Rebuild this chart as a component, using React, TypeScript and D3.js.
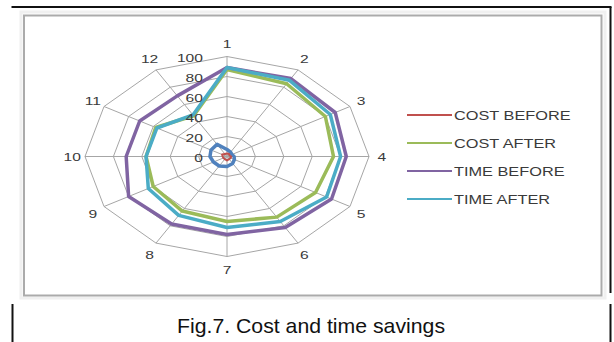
import React from "react";
import * as d3 from "d3";

const categories = ["1", "2", "3", "4", "5", "6", "7", "8", "9", "10", "11", "12"];
const ticks = [0, 20, 40, 60, 80, 100];
const series0 = [7, 5, 4, 5, 6, 8, 10, 11, 11, 12, 13, 14];
const costBefore = [3, 3, 2, 3, 3, 3, 4, 3, 3, 3, 4, 3];
const costAfter = [87, 84, 80, 75, 72, 70, 65, 63, 60, 57, 58, 47];
const timeBefore = [89, 90, 88, 84, 85, 82, 78, 78, 80, 71, 71, 70];
const timeAfter = [89, 88, 84, 80, 81, 75, 71, 68, 64, 57, 57, 48];

const seriesNames = ["COST BEFORE", "COST AFTER", "TIME BEFORE", "TIME AFTER"];
const seriesColors = ["#C0504D", "#9BBB59", "#8064A2", "#4BACC6"];

const W = 614;
const H = 342;
const cx = 227;
const cy = 156.5;
const RX = 142;
const RY = 100;
const SX = 1.36;
const textColor = "#3a3a3a";
const font = "'Liberation Sans', Arial, sans-serif";

const r = d3.scaleLinear().domain([0, 100]).range([0, 1]);
const ang = d3
  .scalePoint<string>()
  .domain(categories)
  .range([0, (2 * Math.PI * (categories.length - 1)) / categories.length]);

function pt(cat: string, v: number): [number, number] {
  const a = ang(cat) as number;
  return [cx + r(v) * RX * Math.sin(a), cy - r(v) * RY * Math.cos(a)];
}

const closed = d3.line<[number, number]>().curve(d3.curveLinearClosed);

function ST(props: { x: number; y: number; anchor?: string; size?: number; children: React.ReactNode }) {
  const { x, y, anchor = "start", size = 11.5, children } = props;
  return (
    <text
      transform={`translate(${x},${y}) scale(${SX},1)`}
      textAnchor={anchor}
      dominantBaseline="central"
      fontSize={size}
      fontFamily={font}
      fill={textColor}
    >
      {children}
    </text>
  );
}

export default function App() {
  const data = [series0, costBefore, costAfter, timeBefore, timeAfter];
  const colors = ["#4F81BD", ...seriesColors];
  return (
    <svg
      width={W}
      height={H}
      viewBox={`0 0 ${W} ${H}`}
      style={{ position: "absolute", left: 0, top: 0, display: "block", background: "#fff" }}
    >
      {/* page frame lines */}
      <line x1={11.5} y1={7} x2={611.5} y2={7} stroke="#111" strokeWidth={2} />
      <line x1={610.5} y1={7} x2={610.5} y2={293} stroke="#111" strokeWidth={2} />
      <line x1={610.5} y1={304} x2={610.5} y2={342} stroke="#111" strokeWidth={2} />
      <line x1={12.5} y1={304} x2={12.5} y2={342} stroke="#111" strokeWidth={2} />
      {/* chart border */}
      <rect x={21} y={12} width={584} height={286} fill="none" stroke="#f0f0f0" strokeWidth={3} />
      <rect x={24} y={15.5} width={577.5} height={280} fill="#fff" stroke="#ababab" strokeWidth={2} />

      {/* grid rings */}
      {ticks.slice(1).map((t) => (
        <path
          key={"ring" + t}
          d={closed(categories.map((c) => pt(c, t))) || ""}
          fill="none"
          stroke="#a6a6a6"
          strokeWidth={1}
        />
      ))}
      {/* spokes */}
      {categories.map((c) => {
        const [x, y] = pt(c, 100);
        return <line key={"sp" + c} x1={cx} y1={cy} x2={x} y2={y} stroke="#a6a6a6" strokeWidth={1} />;
      })}

      {/* series */}
      {data.map((s, i) => (
        <path
          key={"s" + i}
          d={closed(categories.map((c, j) => pt(c, s[j]))) || ""}
          fill="none"
          stroke={colors[i]}
          strokeWidth={i === 1 ? 2 : 3.5}
          strokeLinejoin="round"
        />
      ))}

      {/* tick labels */}
      {ticks.map((t) => (
        <ST key={"t" + t} x={203} y={cy - r(t) * RY + 2} anchor="end">
          {t}
        </ST>
      ))}

      {/* category labels */}
      {categories.map((c) => {
        const a = ang(c) as number;
        return (
          <ST key={"c" + c} x={cx + 1.09 * RX * Math.sin(a)} y={cy - 1.13 * RY * Math.cos(a) + 1} anchor="middle">
            {c}
          </ST>
        );
      })}

      {/* legend */}
      {seriesNames.map((n, i) => {
        const y = 115 + i * 28;
        return (
          <g key={"lg" + i}>
            <line x1={407} y1={y} x2={452} y2={y} stroke={seriesColors[i]} strokeWidth={2} />
            <ST x={454} y={y + 1} size={12}>
              {n}
            </ST>
          </g>
        );
      })}

      {/* caption */}
      <text
        x={311}
        y={333}
        textAnchor="middle"
        fontSize={21}
        fontFamily={font}
        fill="#111"
        textLength={268}
        lengthAdjust="spacingAndGlyphs"
      >
        Fig.7. Cost and time savings
      </text>
    </svg>
  );
}
